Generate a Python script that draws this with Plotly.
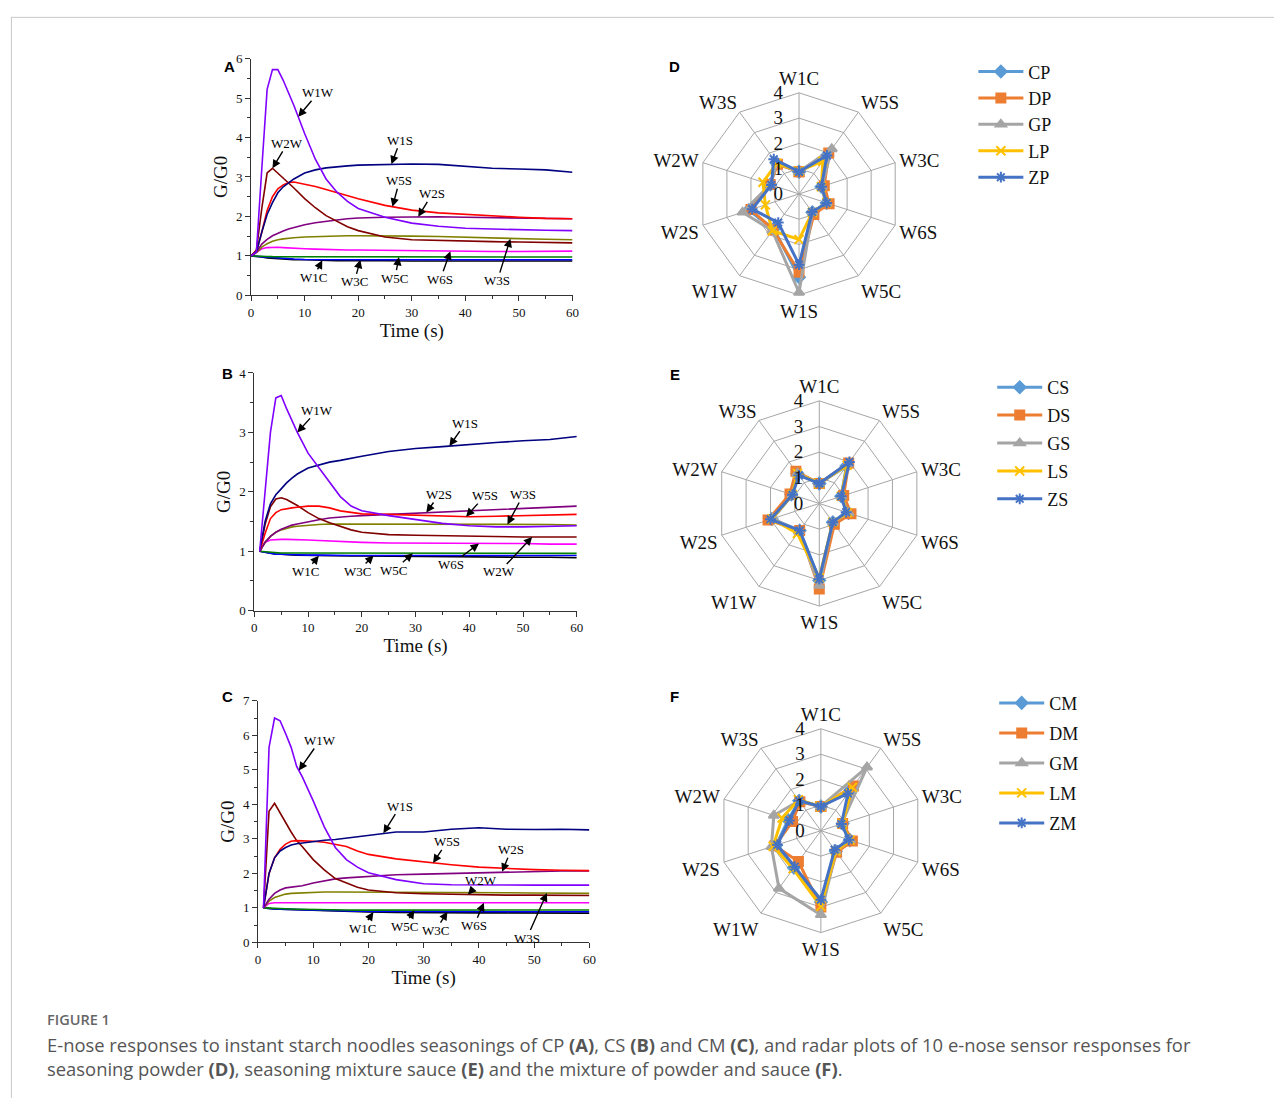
import numpy as np
import plotly.graph_objects as go

W, H = 1281, 1106

# ---------------- time-series data (G/G0) ----------------
T_A = [0, 1, 2, 3, 4, 5, 6, 7, 8, 10, 12, 14, 16, 18, 20, 25, 30, 35, 40, 45, 50, 55, 60]
A_W1W = [1, 1.1, 3.2, 5.22, 5.72, 5.72, 5.45, 5.13, 4.81, 4.1, 3.45, 2.95, 2.62, 2.38, 2.2, 1.98, 1.83, 1.75, 1.7, 1.68, 1.66, 1.65, 1.64]
A_W2W = [1, 1.15, 2.2, 3.1, 3.22, 3.1, 2.98, 2.84, 2.72, 2.45, 2.22, 2.02, 1.87, 1.74, 1.64, 1.48, 1.41, 1.39, 1.37, 1.36, 1.35, 1.34, 1.33]
A_W1S = [1, 1.1, 1.6, 2.05, 2.35, 2.6, 2.75, 2.85, 2.95, 3.1, 3.18, 3.23, 3.26, 3.28, 3.3, 3.32, 3.33, 3.32, 3.27, 3.22, 3.2, 3.18, 3.12]
A_W5S = [1, 1.1, 1.6, 2.15, 2.5, 2.7, 2.8, 2.86, 2.87, 2.82, 2.76, 2.68, 2.6, 2.52, 2.45, 2.28, 2.16, 2.09, 2.05, 2.01, 1.98, 1.95, 1.94]
A_W2S = [1, 1.1, 1.3, 1.42, 1.51, 1.58, 1.63, 1.68, 1.72, 1.79, 1.84, 1.88, 1.91, 1.94, 1.96, 1.98, 1.99, 1.99, 1.98, 1.97, 1.95, 1.94, 1.94]
A_W3S = [1, 1.08, 1.22, 1.31, 1.37, 1.41, 1.43, 1.45, 1.46, 1.48, 1.49, 1.5, 1.5, 1.51, 1.51, 1.51, 1.5, 1.49, 1.47, 1.45, 1.43, 1.42, 1.41]
A_W6S = [1, 1.1, 1.18, 1.21, 1.22, 1.22, 1.21, 1.2, 1.19, 1.18, 1.17, 1.16, 1.16, 1.15, 1.15, 1.14, 1.13, 1.12, 1.12, 1.11, 1.11, 1.11, 1.12]
A_W1C = [1, 0.99, 0.97, 0.95, 0.94, 0.93, 0.92, 0.91, 0.905, 0.9, 0.89, 0.885, 0.88, 0.88, 0.875, 0.875, 0.87, 0.87, 0.87, 0.87, 0.87, 0.87, 0.87]
A_W3C = [1, 0.99, 0.98, 0.96, 0.95, 0.94, 0.93, 0.925, 0.92, 0.91, 0.905, 0.9, 0.9, 0.9, 0.9, 0.9, 0.9, 0.9, 0.9, 0.9, 0.9, 0.9, 0.9]
A_W5C = [1, 1, 0.99, 0.985, 0.98, 0.98, 0.98, 0.975, 0.975, 0.975, 0.975, 0.97, 0.97, 0.97, 0.97, 0.97, 0.97, 0.97, 0.97, 0.97, 0.97, 0.97, 0.97]

T_B = [1, 2, 3, 4, 5, 6, 7, 8, 10, 12, 14, 16, 18, 20, 25, 30, 35, 40, 45, 50, 55, 60]
B_W1W = [1, 2.0, 3.0, 3.58, 3.62, 3.4, 3.2, 3.0, 2.65, 2.4, 2.15, 1.92, 1.76, 1.68, 1.6, 1.53, 1.47, 1.43, 1.41, 1.41, 1.42, 1.43]
B_W1S = [1, 1.5, 1.8, 1.95, 2.05, 2.15, 2.23, 2.3, 2.4, 2.45, 2.5, 2.53, 2.57, 2.6, 2.68, 2.73, 2.76, 2.8, 2.83, 2.86, 2.88, 2.93]
B_W2W = [1, 1.45, 1.75, 1.88, 1.9, 1.87, 1.82, 1.77, 1.65, 1.55, 1.48, 1.42, 1.36, 1.32, 1.28, 1.27, 1.26, 1.25, 1.25, 1.24, 1.24, 1.24]
B_W5S = [1, 1.3, 1.55, 1.65, 1.7, 1.72, 1.73, 1.74, 1.76, 1.76, 1.73, 1.68, 1.65, 1.63, 1.62, 1.61, 1.6, 1.58, 1.59, 1.6, 1.61, 1.62]
B_W2S = [1, 1.15, 1.25, 1.32, 1.37, 1.41, 1.44, 1.46, 1.5, 1.53, 1.56, 1.58, 1.59, 1.6, 1.62, 1.64, 1.67, 1.69, 1.71, 1.73, 1.74, 1.76]
B_W3S = [1, 1.15, 1.25, 1.32, 1.36, 1.39, 1.41, 1.42, 1.44, 1.45, 1.46, 1.46, 1.46, 1.46, 1.46, 1.46, 1.46, 1.46, 1.45, 1.45, 1.45, 1.44]
B_W6S = [1, 1.15, 1.19, 1.2, 1.2, 1.2, 1.2, 1.2, 1.19, 1.18, 1.17, 1.16, 1.16, 1.15, 1.14, 1.14, 1.13, 1.13, 1.13, 1.13, 1.12, 1.12]
B_W1C = [1, 0.98, 0.96, 0.95, 0.95, 0.94, 0.94, 0.935, 0.93, 0.925, 0.92, 0.92, 0.92, 0.92, 0.915, 0.91, 0.91, 0.91, 0.9, 0.9, 0.9, 0.89]
B_W3C = [1, 0.98, 0.96, 0.95, 0.95, 0.945, 0.94, 0.94, 0.935, 0.935, 0.93, 0.93, 0.93, 0.93, 0.93, 0.93, 0.93, 0.93, 0.93, 0.93, 0.93, 0.93]
B_W5C = [1, 0.99, 0.98, 0.975, 0.97, 0.97, 0.97, 0.97, 0.97, 0.97, 0.965, 0.965, 0.965, 0.965, 0.965, 0.965, 0.965, 0.965, 0.965, 0.965, 0.965, 0.965]

T_C = [1, 2, 3, 4, 5, 6, 7, 8, 10, 12, 14, 16, 18, 20, 25, 30, 35, 40, 45, 50, 55, 60]
C_W1W = [1, 5.65, 6.5, 6.42, 6.05, 5.65, 5.1, 4.8, 4.1, 3.35, 2.75, 2.4, 2.18, 2.02, 1.82, 1.7, 1.67, 1.66, 1.66, 1.66, 1.66, 1.66]
C_W2W = [1, 3.8, 4.03, 3.75, 3.45, 3.2, 2.95, 2.78, 2.4, 2.1, 1.85, 1.72, 1.6, 1.52, 1.44, 1.41, 1.39, 1.38, 1.37, 1.37, 1.36, 1.36]
C_W1S = [1, 2.0, 2.45, 2.65, 2.75, 2.82, 2.86, 2.88, 2.93, 2.96, 2.98, 3.02, 3.08, 3.12, 3.2, 3.2, 3.28, 3.32, 3.28, 3.27, 3.28, 3.26]
C_W5S = [1, 2.0, 2.45, 2.7, 2.85, 2.93, 2.95, 2.95, 2.93, 2.9, 2.85, 2.78, 2.65, 2.55, 2.42, 2.33, 2.25, 2.18, 2.14, 2.11, 2.09, 2.08]
C_W2S = [1, 1.25, 1.42, 1.52, 1.58, 1.6, 1.62, 1.64, 1.72, 1.79, 1.84, 1.87, 1.89, 1.92, 1.96, 1.98, 2.0, 2.03, 2.05, 2.06, 2.07, 2.07]
C_W3S = [1, 1.2, 1.3, 1.36, 1.4, 1.42, 1.43, 1.44, 1.45, 1.46, 1.46, 1.46, 1.46, 1.46, 1.46, 1.46, 1.45, 1.44, 1.44, 1.43, 1.43, 1.42]
C_W6S = [1, 1.13, 1.15, 1.15, 1.16, 1.16, 1.16, 1.16, 1.16, 1.16, 1.16, 1.15, 1.15, 1.15, 1.15, 1.15, 1.15, 1.15, 1.15, 1.15, 1.15, 1.15]
C_W1C = [1, 0.98, 0.97, 0.965, 0.96, 0.95, 0.94, 0.935, 0.92, 0.91, 0.9, 0.895, 0.89, 0.88, 0.87, 0.86, 0.86, 0.855, 0.855, 0.85, 0.85, 0.85]
C_W3C = [1, 0.98, 0.97, 0.965, 0.96, 0.955, 0.95, 0.94, 0.93, 0.92, 0.91, 0.905, 0.9, 0.9, 0.895, 0.89, 0.89, 0.89, 0.89, 0.89, 0.89, 0.89]
C_W5C = [1, 0.99, 0.98, 0.975, 0.97, 0.965, 0.96, 0.96, 0.95, 0.945, 0.94, 0.94, 0.935, 0.935, 0.935, 0.935, 0.935, 0.935, 0.94, 0.94, 0.94, 0.94]

# ---------------- radar data ----------------
RADAR_SENSORS = ["W1C", "W5S", "W3C", "W6S", "W5C", "W1S", "W1W", "W2S", "W2W", "W3S"]
CP = [0.88, 1.9, 0.93, 1.15, 0.9, 3.3, 1.7, 2.1, 1.2, 1.5]
DP = [0.88, 2.0, 1.05, 1.25, 1.0, 3.1, 1.75, 2.0, 1.2, 1.45]
GP = [0.88, 2.2, 0.95, 1.15, 0.9, 3.9, 1.8, 2.35, 1.2, 1.5]
LP = [0.9, 1.6, 0.93, 1.15, 0.9, 1.8, 1.8, 1.4, 1.5, 1.5]
ZP = [0.88, 1.88, 0.93, 1.15, 0.88, 2.8, 1.4, 1.95, 1.15, 1.7]

CS = [0.78, 1.8, 0.9, 1.2, 0.9, 3.0, 1.3, 1.95, 1.15, 1.45]
DS = [0.78, 1.95, 1.0, 1.3, 1.0, 3.33, 1.3, 2.1, 1.2, 1.55]
GS = [0.78, 1.9, 0.9, 1.2, 0.9, 3.2, 1.35, 1.9, 1.1, 1.45]
LS = [0.78, 1.85, 0.9, 1.15, 0.9, 2.9, 1.45, 1.95, 1.1, 1.45]
ZS = [0.78, 2.0, 0.9, 1.1, 0.9, 2.95, 1.3, 2.0, 1.1, 1.35]

CM = [0.95, 2.0, 0.9, 1.2, 1.0, 2.8, 1.8, 1.85, 1.35, 1.45]
DM = [0.95, 2.17, 0.9, 1.3, 1.05, 3.0, 1.5, 1.9, 1.17, 1.4]
GM = [0.95, 3.08, 0.85, 1.2, 1.0, 3.3, 2.8, 2.04, 1.94, 1.45]
LM = [0.95, 2.1, 0.88, 1.2, 1.0, 2.97, 1.85, 1.97, 1.6, 1.5]
ZM = [0.95, 1.81, 0.85, 1.15, 0.92, 2.71, 1.75, 1.8, 1.3, 1.45]

SERIF = "Liberation Serif"
SENSOR_COLORS = {
    "W1C": "#000000", "W3C": "#0000FF", "W5C": "#008000", "W6S": "#FF00FF",
    "W3S": "#808000", "W2S": "#800080", "W2W": "#800000", "W5S": "#FF0000",
    "W1S": "#000080", "W1W": "#8000FF",
}
DRAW_ORDER = ["W1C", "W3C", "W5C", "W6S", "W3S", "W2S", "W2W", "W5S", "W1S", "W1W"]


def px(x):
    return x / W


def py(y):
    return 1 - y / H


fig = go.Figure()

panels = [
    dict(t=T_A, data=dict(W1W=A_W1W, W2W=A_W2W, W1S=A_W1S, W5S=A_W5S, W2S=A_W2S, W3S=A_W3S,
                          W6S=A_W6S, W1C=A_W1C, W3C=A_W3C, W5C=A_W5C),
         xd=(250, 574), yd=(52.3, 292.3), yr=6, ax="", letter="A", lpos=(221, 50),
         notes=[("W1W", 8.8, 20, -24), ("W2W", 4.0, 15, -25), ("W1S", 26.2, 9, -24),
                ("W5S", 26.4, 7, -26), ("W2S", 31.2, 14, -23), ("W1C", 13.3, -9, 17),
                ("W3C", 20.4, -6, 22), ("W5C", 27.6, -4, 21), ("W6S", 37.2, -10, 28),
                ("W3S", 48.4, -13, 42)]),
    dict(t=T_B, data=dict(W1W=B_W1W, W2W=B_W2W, W1S=B_W1S, W5S=B_W5S, W2S=B_W2S, W3S=B_W3S,
                          W6S=B_W6S, W1C=B_W1C, W3C=B_W3C, W5C=B_W5C),
         xd=(253.3, 578.3), yd=(371, 612), yr=4, ax="2", letter="B", lpos=(219, 372),
         notes=[("W1W", 8.0, 20, -22), ("W1S", 36.3, 16, -23), ("W2S", 32.0, 13, -18),
                ("W5S", 39.4, 19, -21), ("W3S", 47.1, 16, -30), ("W1C", 12.0, -13, 16),
                ("W3C", 22.2, -16, 16), ("W5C", 29.5, -19, 17), ("W6S", 41.8, -28, 21),
                ("W2W", 51.7, -33, 35)]),
    dict(t=T_C, data=dict(W1W=C_W1W, W2W=C_W2W, W1S=C_W1S, W5S=C_W5S, W2S=C_W2S, W3S=C_W3S,
                          W6S=C_W6S, W1C=C_W1C, W3C=C_W3C, W5C=C_W5C),
         xd=(257, 591), yd=(703.3, 948.3), yr=7, ax="3", letter="C", lpos=(219, 699),
         notes=[("W1W", 7.4, 21, -30), ("W1S", 22.7, 17, -27), ("W5S", 31.7, 14, -21),
                ("W2S", 44.2, 9, -22), ("W2W", 38.0, 13, -14), ("W1C", 20.9, -11, 16),
                ("W5C", 28.3, -10, 16), ("W3C", 34.3, -12, 19), ("W6S", 40.9, -10, 23),
                ("W3S", 52.3, -20, 45)]),
]

annotations = []
axis_font = dict(family=SERIF, size=13, color="#111")
for p in panels:
    xa = "x" + p["ax"]
    ya = "y" + p["ax"]
    for s in DRAW_ORDER:
        fig.add_trace(go.Scatter(x=p["t"], y=p["data"][s], mode="lines",
                                 line=dict(color=SENSOR_COLORS[s], width=1.6),
                                 xaxis=xa, yaxis=ya, showlegend=False, hoverinfo="skip"))
    axkey = "xaxis" + p["ax"]
    aykey = "yaxis" + p["ax"]
    fig.layout[axkey] = dict(
        domain=[px(p["xd"][0]), px(p["xd"][1])], range=[0, 60], anchor=ya,
        showline=True, linecolor="#333", linewidth=1, showgrid=False, zeroline=False,
        ticks="outside", ticklen=5, tickcolor="#333", dtick=10, tick0=0,
        minor=dict(ticks="outside", ticklen=3, dtick=5, tickcolor="#333"),
        tickfont=axis_font,
        title=dict(text="Time (s)", font=dict(family=SERIF, size=19, color="#111"), standoff=1),
    )
    fig.layout[aykey] = dict(
        domain=[py(p["yd"][1]), py(p["yd"][0])], range=[0, p["yr"]], anchor=xa,
        showline=True, linecolor="#333", linewidth=1, showgrid=False, zeroline=False,
        ticks="outside", ticklen=5, tickcolor="#333", dtick=1, tick0=0,
        minor=dict(ticks="outside", ticklen=3, dtick=0.5, tickcolor="#333"),
        tickfont=axis_font,
        title=dict(text="G/G0", font=dict(family=SERIF, size=19, color="#111"), standoff=3),
    )
    for s, tt, dx, dy in p["notes"]:
        yv = float(np.interp(tt, p["t"], p["data"][s]))
        annotations.append(dict(
            x=tt, y=yv, xref=xa, yref=ya, text=s, showarrow=True,
            ax=dx, ay=dy, arrowhead=2, arrowsize=1.2, arrowwidth=1.4, arrowcolor="#000",
            standoff=0, startstandoff=0, borderpad=0,
            font=dict(family=SERIF, size=13, color="#000"), bgcolor="rgba(0,0,0,0)",
        ))
    annotations.append(dict(x=px(p["lpos"][0]), y=py(p["lpos"][1]), xref="paper", yref="paper",
                            text="<b>%s</b>" % p["letter"], showarrow=False,
                            font=dict(family="Liberation Sans", size=15, color="#000")))

# ---------------- radar panels ----------------
RADAR_STYLE = [
    ("#5B9BD5", "diamond"),
    ("#ED7D31", "square"),
    ("#A5A5A5", "triangle-up"),
    ("#FFC000", "x-thin-open"),
    ("#4472C4", "asterisk-open"),
]

radars = [
    dict(names=["CP", "DP", "GP", "LP", "ZP"], vals=[CP, DP, GP, LP, ZP], c=(802.3, 189.5), R=102.5,
         polar="polar", legend="legend", lx=978, ly=47, lfs=18, gap=0, letter="D", lpos=(677, 50)),
    dict(names=["CS", "DS", "GS", "LS", "ZS"], vals=[CS, DS, GS, LS, ZS], c=(822.7, 503.3), R=104,
         polar="polar2", legend="legend2", lx=997, ly=367, lfs=18, gap=1.5, letter="E", lpos=(677, 373)),
    dict(names=["CM", "DM", "GM", "LM", "ZM"], vals=[CM, DM, GM, LM, ZM], c=(824.3, 835), R=103.3,
         polar="polar3", legend="legend3", lx=999, ly=687, lfs=18, gap=3.6, letter="F", lpos=(677, 699)),
]

grid_col = "#A6A6A6"
for rd in radars:
    for (col, sym), name, v in zip(RADAR_STYLE, rd["names"], rd["vals"]):
        fig.add_trace(go.Scatterpolar(
            r=list(v) + [v[0]], theta=RADAR_SENSORS + [RADAR_SENSORS[0]],
            mode="lines+markers", name=name, subplot=rd["polar"], legend=rd["legend"],
            legendgroup=rd["polar"] + name,
            line=dict(color=col, width=3),
            marker=dict(symbol=sym, size=9, color=col, line=dict(color=col, width=2)),
            hoverinfo="skip",
        ))
    cx, cy = rd["c"]
    R = rd["R"]
    fig.layout[rd["polar"]] = dict(
        domain=dict(x=[px(cx - R), px(cx + R)], y=[py(cy + R), py(cy - R)]),
        bgcolor="white", gridshape="linear",
        angularaxis=dict(direction="clockwise", rotation=90, showline=True, linecolor=grid_col,
                         linewidth=1, gridcolor=grid_col, gridwidth=1, ticks="",
                         tickfont=dict(family=SERIF, size=19, color="#111")),
        radialaxis=dict(range=[0, 4], dtick=1, tick0=0, angle=90, tickangle=90,
                        side="counterclockwise", showline=False, gridcolor=grid_col, gridwidth=1,
                        ticks="outside", ticklen=9, tickcolor="rgba(0,0,0,0)",
                        tickfont=dict(family=SERIF, size=19, color="#111")),
    )
    fig.layout[rd["legend"]] = dict(
        x=px(rd["lx"]), y=py(rd["ly"]), xanchor="left", yanchor="top",
        font=dict(family=SERIF, size=rd["lfs"], color="#111"), bgcolor="rgba(0,0,0,0)",
        tracegroupgap=rd["gap"], itemwidth=45,
    )
    annotations.append(dict(x=px(rd["lpos"][0]), y=py(rd["lpos"][1]), xref="paper", yref="paper",
                            text="<b>%s</b>" % rd["letter"], showarrow=False,
                            font=dict(family="Liberation Sans", size=15, color="#000")))

# ---------------- caption ----------------
annotations.append(dict(x=px(42), y=py(1026), xref="paper", yref="paper", xanchor="left",
                        yanchor="middle", showarrow=False, text="FIGURE 1",
                        font=dict(family="Open Sans", size=14.5, color="#666", weight=600)))
annotations.append(dict(x=px(42), y=py(1052), xref="paper", yref="paper", xanchor="left",
                        yanchor="middle", showarrow=False,
                        text="E-nose responses to instant starch noodles seasonings of CP <b>(A)</b>, CS <b>(B)</b> and CM <b>(C)</b>, and radar plots of 10 e-nose sensor responses for",
                        font=dict(family="Open Sans", size=18.4, color="#555")))
annotations.append(dict(x=px(42), y=py(1076), xref="paper", yref="paper", xanchor="left",
                        yanchor="middle", showarrow=False,
                        text="seasoning powder <b>(D)</b>, seasoning mixture sauce <b>(E)</b> and the mixture of powder and sauce <b>(F)</b>.",
                        font=dict(family="Open Sans", size=18.4, color="#555")))

shapes = [
    dict(type="line", xref="paper", yref="paper", x0=px(8), x1=1.0, y0=py(10.5), y1=py(10.5),
         line=dict(color="#C8C8C8", width=1)),
    dict(type="line", xref="paper", yref="paper", x0=px(8.5), x1=px(8.5), y0=py(10), y1=0,
         line=dict(color="#C8C8C8", width=1)),
]

fig.update_layout(
    width=W, height=H, margin=dict(l=0, r=0, t=0, b=0),
    paper_bgcolor="white", plot_bgcolor="white",
    annotations=annotations, shapes=shapes,
    font=dict(family=SERIF),
)

fig.write_html("out.html")
